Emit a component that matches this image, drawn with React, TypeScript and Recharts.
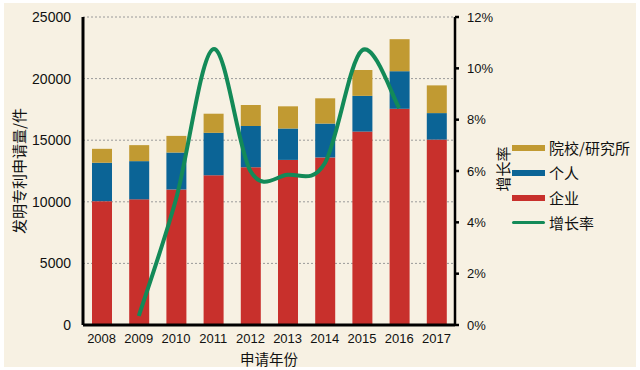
import React from 'react';
import { ComposedChart, Bar, Line, XAxis, YAxis, CartesianGrid, Label } from 'recharts';

const years = ['2008', '2009', '2010', '2011', '2012', '2013', '2014', '2015', '2016', '2017'];
const enterprise = [10050, 10200, 11000, 12150, 12800, 13400, 13600, 15700, 17550, 15050];
const individual = [3120, 3100, 3000, 3450, 3350, 2550, 2750, 2900, 3050, 2150];
const institute = [1130, 1300, 1350, 1550, 1700, 1800, 2050, 2100, 2600, 2250];
const growth: (number | null)[] = [null, 0.35, 4.9, 10.75, 6.0, 5.85, 6.3, 10.7, 8.45, null];
const leftTicks = [0, 5000, 10000, 15000, 20000, 25000];
const rightTicks = [0, 2, 4, 6, 8, 10, 12];

const legendItems = [
  { name: '院校/研究所', color: '#c19a32', kind: 'bar' },
  { name: '个人', color: '#0b6496', kind: 'bar' },
  { name: '企业', color: '#c8302c', kind: 'bar' },
  { name: '增长率', color: '#138a58', kind: 'line' },
];

const data = years.map((y, i) => ({
  year: y,
  enterprise: enterprise[i],
  individual: individual[i],
  institute: institute[i],
  growth: growth[i],
}));

const FONT = "Arial, 'Liberation Sans', 'Noto Sans CJK SC', sans-serif";
const CJK = "'Noto Sans CJK SC', sans-serif";

// Catmull-Rom style smoothing (like spreadsheet "smoothed line")
const smoothCurve = (context: any) => {
  let pts: number[][] = [];
  return {
    areaStart() {},
    areaEnd() {},
    lineStart() { pts = []; },
    point(x: number, y: number) { pts.push([+x, +y]); },
    lineEnd() {
      if (!pts.length) return;
      context.moveTo(pts[0][0], pts[0][1]);
      for (let i = 0; i < pts.length - 1; i++) {
        const p0 = pts[i - 1] || pts[i];
        const p1 = pts[i];
        const p2 = pts[i + 1];
        const p3 = pts[i + 2] || p2;
        context.bezierCurveTo(
          p1[0] + (p2[0] - p0[0]) / 6, p1[1] + (p2[1] - p0[1]) / 6,
          p2[0] - (p3[0] - p1[0]) / 6, p2[1] - (p3[1] - p1[1]) / 6,
          p2[0], p2[1]);
      }
    },
  };
};

const LeftTitle = (props: any) => {
  const vb = props.viewBox || {};
  const x = (vb.x ?? 0) + 18;
  const y = (vb.y ?? 0) + (vb.height ?? 0) / 2;
  return (
    <text x={x} y={y} transform={`rotate(-90 ${x} ${y})`} textAnchor="middle" dominantBaseline="central"
      fontFamily={CJK} fontSize={15} fill="#111">发明专利申请量/件</text>
  );
};

const RightTitle = (props: any) => {
  const vb = props.viewBox || {};
  const x = (vb.x ?? 0) + 47;
  const y = (vb.y ?? 0) + (vb.height ?? 0) / 2 - 2;
  return (
    <text x={x} y={y} transform={`rotate(-90 ${x} ${y})`} textAnchor="middle" dominantBaseline="central"
      fontFamily={CJK} fontSize={15} fill="#111">增长率</text>
  );
};

const BottomTitle = (props: any) => {
  const vb = props.viewBox || {};
  const x = (vb.x ?? 0) + (vb.width ?? 0) / 2;
  const y = (vb.y ?? 0) + 33;
  return (
    <text x={x} y={y} textAnchor="middle" dominantBaseline="central"
      fontFamily={CJK} fontSize={14.5} fill="#111">申请年份</text>
  );
};

export default function App() {
  return (
    <div style={{ position: 'relative', width: 640, height: 370, background: '#ffffff', overflow: 'hidden' }}>
      <style>{'body{margin:0;}'}</style>
      <div style={{ position: 'absolute', left: 4, top: 3, width: 632, height: 364, background: '#f7f1e3' }} />
      <div style={{ position: 'absolute', left: 0, top: 0 }}>
        <ComposedChart width={640} height={370} data={data}
          margin={{ top: 17, right: 125, bottom: 0, left: 0 }}>
          <CartesianGrid yAxisId="left" vertical={false} strokeDasharray="2 2" stroke="#9a9a9a" />
          <XAxis dataKey="year" height={45} tickLine={false} axisLine={{ stroke: '#000', strokeWidth: 3 }}
            tickMargin={3} tick={{ fill: '#111', fontSize: 13, fontFamily: FONT }} interval={0}>
            <Label content={<BottomTitle />} />
          </XAxis>
          <YAxis yAxisId="left" width={83} domain={[0, 25000]} ticks={leftTicks} tickLine={false}
            axisLine={{ stroke: '#000', strokeWidth: 3 }} tickMargin={6}
            tick={{ fill: '#111', fontSize: 14, fontFamily: FONT }} allowDataOverflow>
            <Label content={<LeftTitle />} />
          </YAxis>
          <YAxis yAxisId="right" orientation="right" width={60} domain={[0, 12]} ticks={rightTicks}
            tickFormatter={(v: number) => `${v}%`} tickSize={4} tickMargin={8}
            tickLine={{ stroke: '#000', strokeWidth: 2.5 }} axisLine={{ stroke: '#000', strokeWidth: 2.5 }}
            tick={{ fill: '#111', fontSize: 13, fontFamily: "'Liberation Sans Narrow', Arial, sans-serif" }}>
            <Label content={<RightTitle />} />
          </YAxis>
          <Bar yAxisId="left" dataKey="enterprise" stackId="a" fill="#c8302c" barSize={20} isAnimationActive={false} />
          <Bar yAxisId="left" dataKey="individual" stackId="a" fill="#0b6496" barSize={20} isAnimationActive={false} />
          <Bar yAxisId="left" dataKey="institute" stackId="a" fill="#c19a32" barSize={20} isAnimationActive={false} />
          <Line yAxisId="right" dataKey="growth" type={smoothCurve as any} stroke="#138a58" strokeWidth={4}
            dot={false} activeDot={false} isAnimationActive={false} />
        </ComposedChart>
      </div>
      <div style={{ position: 'absolute', left: 512, top: 135, fontFamily: CJK, fontSize: 15, color: '#111' }}>
        {legendItems.map((it) => (
          <div key={it.name} style={{ display: 'flex', alignItems: 'center', height: 25, whiteSpace: 'nowrap' }}>
            <span style={{
              display: 'inline-block', width: 33, height: it.kind === 'line' ? 3 : 6,
              background: it.color, borderRadius: it.kind === 'line' ? 2 : 0, marginRight: 4,
            }} />
            <span>{it.name}</span>
          </div>
        ))}
      </div>
    </div>
  );
}
